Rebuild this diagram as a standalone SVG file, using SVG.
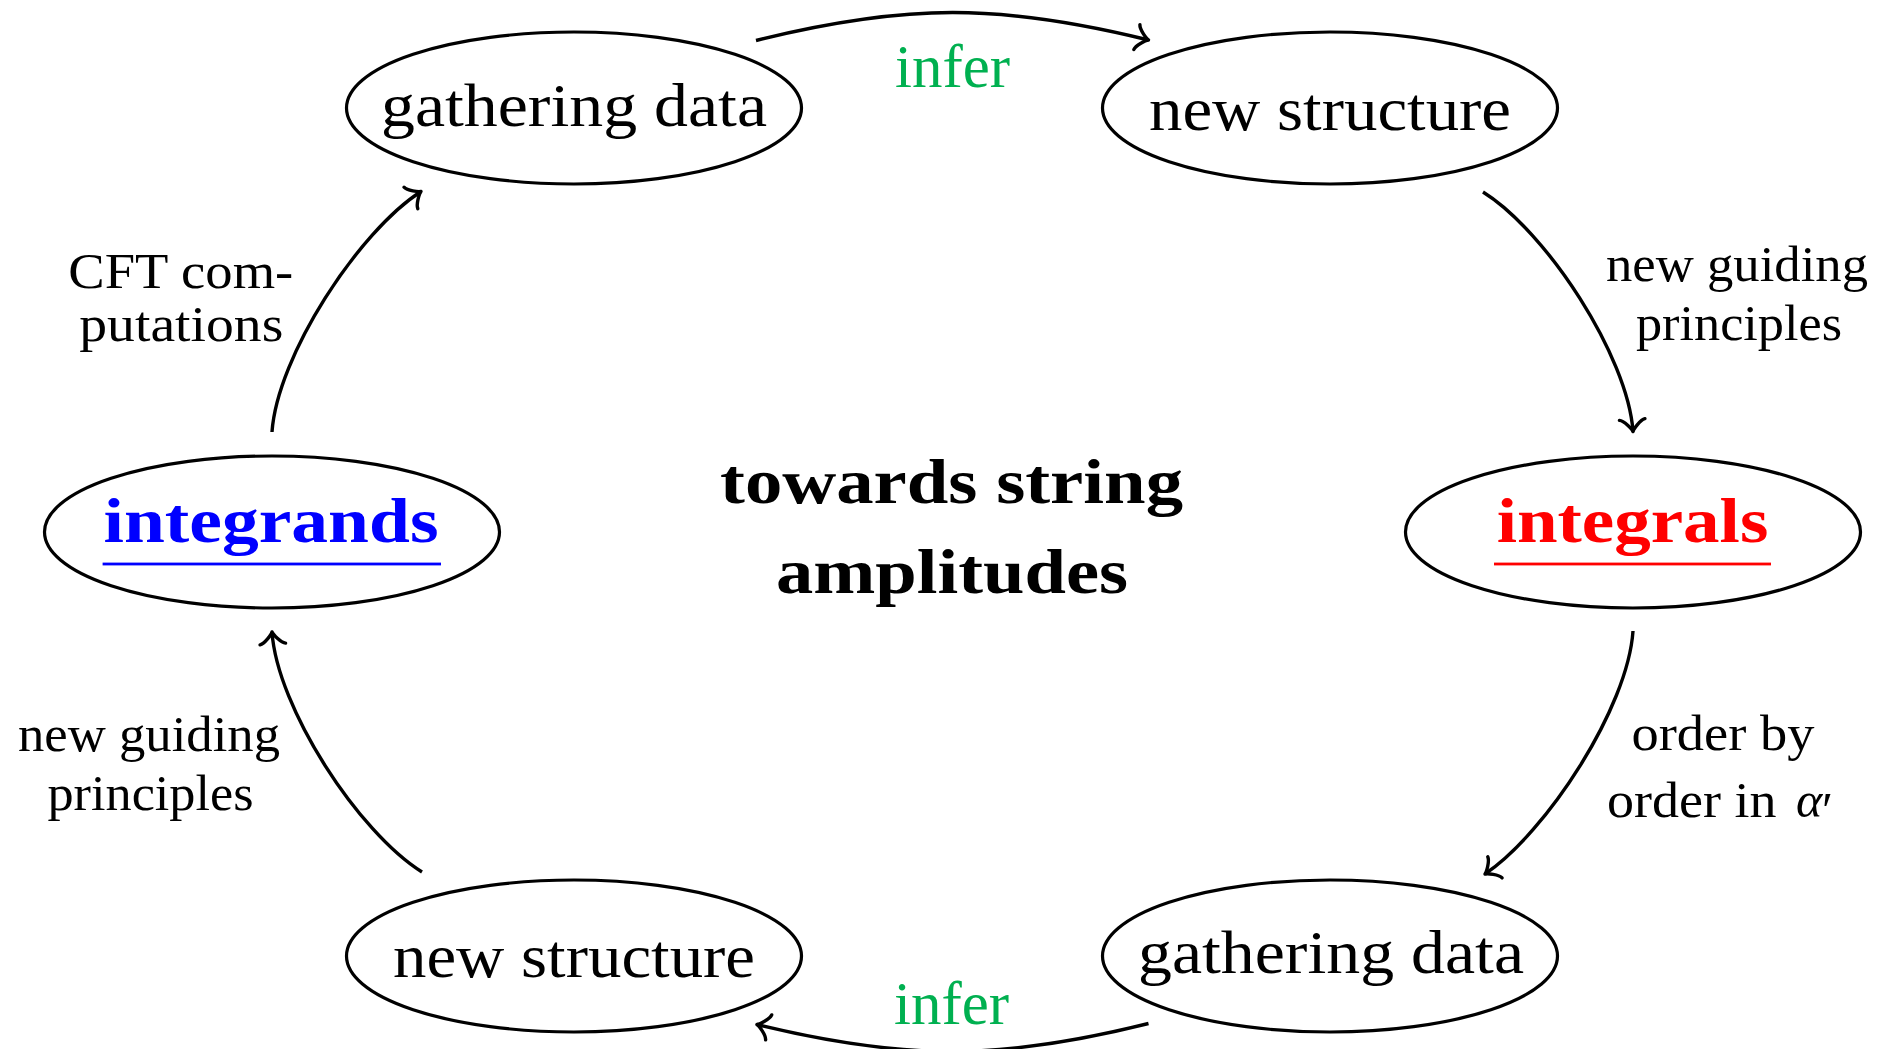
<svg xmlns="http://www.w3.org/2000/svg" width="1892" height="1049" viewBox="0 0 1892 1049">
  <style>
    .shape { fill: #ffffff; stroke: #000000; stroke-width: 3.2; }
    .txt { font-family: "Liberation Serif", "Times New Roman", serif; font-size: 62px; fill: #000000; }
    .lbl { font-family: "Liberation Serif", "Times New Roman", serif; font-size: 50px; fill: #000000; }
    .bf { font-family: "Liberation Serif", "Times New Roman", serif; font-size: 64px; font-weight: bold; }
    .green { fill: #00B050; }
    .edge { fill: none; stroke: #000000; stroke-width: 3.4; marker-end: url(#tip); }
  </style>
  <defs>
    <!-- curved "to" style arrow tip, tip point at the path end -->
    <marker id="tip" markerUnits="userSpaceOnUse" viewBox="-16 -16 32 32" markerWidth="32" markerHeight="32" refX="0" refY="0" orient="auto" overflow="visible">
      <path d="M-12,-12.8 C-11.2,-8 -2.4,-0.8 0,0 C-2.4,0.8 -11.2,8 -12,12.8" fill="none" stroke="#000000" stroke-width="3.4" stroke-linecap="round" stroke-linejoin="round"/>
    </marker>
  </defs>

  <rect x="0" y="0" width="1892" height="1049" fill="#ffffff"/>

  <!-- connectors -->
  <g id="connectors">
    <path id="e-top" class="edge" d="M756,40.5 C905.3,3.3 999.7,3.3 1148.5,40"/>
    <path id="e-right-top" class="edge" d="M1483,192 C1546.6,231.7 1627.8,356.2 1633,431.5"/>
    <path id="e-right-bottom" class="edge" d="M1633,631 C1627.8,707.8 1546.6,832.3 1485,874"/>
    <path id="e-bottom" class="edge" d="M1148.5,1023.5 C999.7,1060.7 905.3,1060.7 757,1024.5"/>
    <path id="e-left-bottom" class="edge" d="M422,872 C358.4,832.3 277.2,707.8 272,632"/>
    <path id="e-left-top" class="edge" d="M272,432 C277.2,356.2 358.4,231.7 421,191.5"/>
  </g>

  <!-- connector labels -->
  <g id="edge-labels">
    <text class="txt green" x="895" y="87" textLength="115" lengthAdjust="spacingAndGlyphs">infer</text>
    <text class="txt green" x="894" y="1023.5" textLength="115" lengthAdjust="spacingAndGlyphs">infer</text>
    <text class="lbl" x="1606" y="281" textLength="262" lengthAdjust="spacingAndGlyphs">new guiding</text>
    <text class="lbl" x="1636" y="340" textLength="206" lengthAdjust="spacingAndGlyphs">principles</text>
    <text class="lbl" x="1631.5" y="750" textLength="183" lengthAdjust="spacingAndGlyphs">order by</text>
    <text class="lbl" x="1607" y="816.7" textLength="169.5" lengthAdjust="spacingAndGlyphs">order in</text>
    <text class="lbl" x="1796" y="816.7" font-style="italic">α</text>
    <text class="lbl" x="1822" y="827" font-size="66px">′</text>
    <text class="lbl" x="18" y="750.5" textLength="262" lengthAdjust="spacingAndGlyphs">new guiding</text>
    <text class="lbl" x="47.5" y="809.5" textLength="206" lengthAdjust="spacingAndGlyphs">principles</text>
    <text class="lbl" x="68.3" y="287.5" textLength="225" lengthAdjust="spacingAndGlyphs">CFT com-</text>
    <text class="lbl" x="79.3" y="341" textLength="204" lengthAdjust="spacingAndGlyphs">putations</text>
  </g>

  <!-- nodes -->
  <g id="node-gathering-top">
    <ellipse class="shape" cx="574" cy="108" rx="227.5" ry="76"/>
    <text class="txt" x="381" y="125.5" textLength="386" lengthAdjust="spacingAndGlyphs">gathering data</text>
  </g>
  <g id="node-structure-top">
    <ellipse class="shape" cx="1330" cy="108" rx="227.5" ry="76"/>
    <text class="txt" x="1149" y="129.5" textLength="362" lengthAdjust="spacingAndGlyphs">new structure</text>
  </g>
  <g id="node-integrands">
    <ellipse class="shape" cx="272" cy="532" rx="227.5" ry="76"/>
    <text class="bf" x="103.5" y="541.7" fill="#0000FF" textLength="335" lengthAdjust="spacingAndGlyphs">integrands</text>
    <rect x="102.6" y="562.6" width="338.4" height="2.8" fill="#0000FF"/>
  </g>
  <g id="node-integrals">
    <ellipse class="shape" cx="1633" cy="532" rx="227.5" ry="76"/>
    <text class="bf" x="1496.7" y="541.7" fill="#FF0000" textLength="271.6" lengthAdjust="spacingAndGlyphs">integrals</text>
    <rect x="1494" y="562.6" width="277" height="2.8" fill="#FF0000"/>
  </g>
  <g id="node-gathering-bottom">
    <ellipse class="shape" cx="1330" cy="956" rx="227.5" ry="76"/>
    <text class="txt" x="1138" y="972.5" textLength="386" lengthAdjust="spacingAndGlyphs">gathering data</text>
  </g>
  <g id="node-structure-bottom">
    <ellipse class="shape" cx="574" cy="956" rx="227.5" ry="76"/>
    <text class="txt" x="393" y="976.5" textLength="362" lengthAdjust="spacingAndGlyphs">new structure</text>
  </g>

  <!-- central title -->
  <g id="title">
    <text class="bf" x="720" y="503" fill="#000000" textLength="463" lengthAdjust="spacingAndGlyphs">towards string</text>
    <text class="bf" x="776" y="593" fill="#000000" textLength="352" lengthAdjust="spacingAndGlyphs">amplitudes</text>
  </g>
</svg>
